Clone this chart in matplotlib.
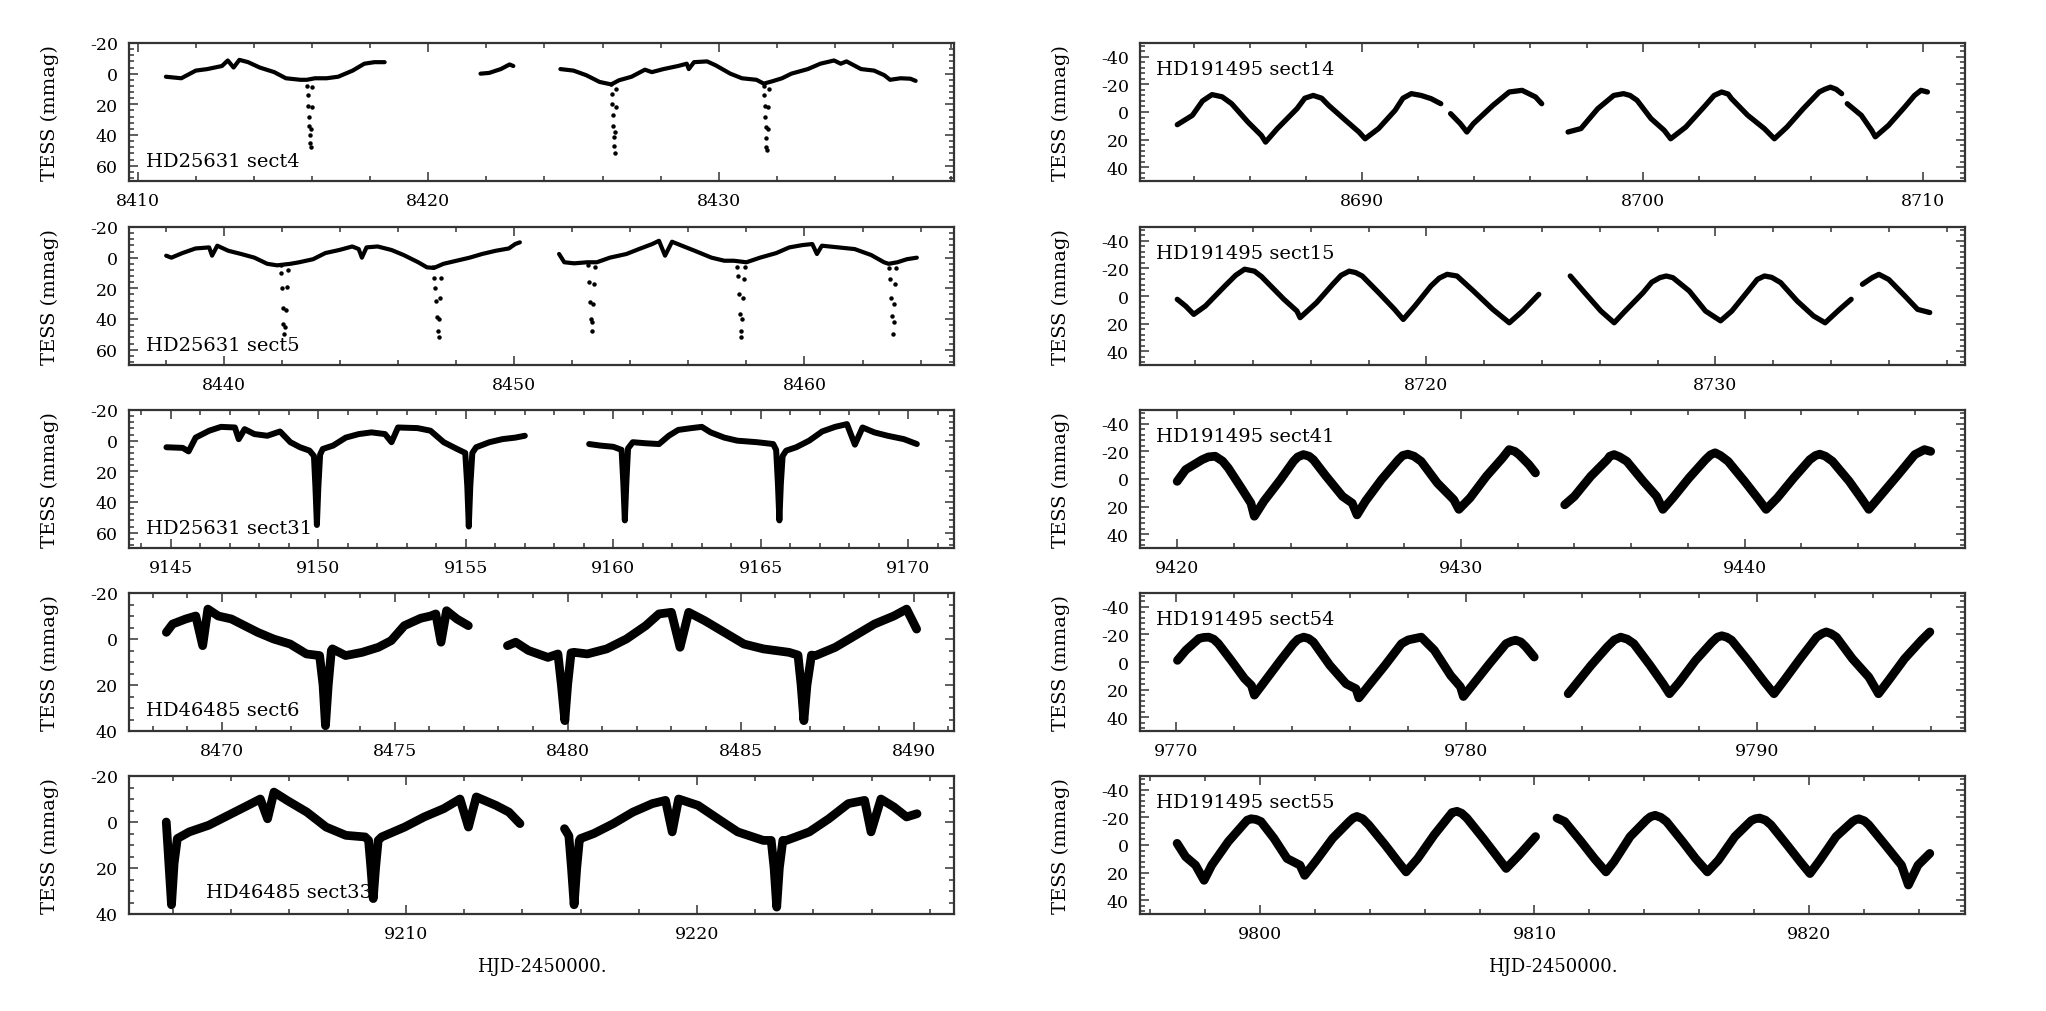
import numpy as np
import matplotlib
matplotlib.use("Agg")
import matplotlib.pyplot as plt
from matplotlib.ticker import MultipleLocator, FormatStrFormatter

plt.rcParams['font.family'] = ['DejaVu Serif']
plt.rcParams['axes.unicode_minus'] = False

# ---------------- data (HJD-2450000, mmag) ----------------
s4_segs = [
    [(8410.97, 2), (8411.5, 3), (8412.0, -2), (8412.4, -3), (8412.9, -5), (8413.1, -8.6), (8413.3, -4),
     (8413.5, -9), (8413.8, -7.5), (8414.2, -4), (8414.7, -1), (8415.1, 3), (8415.6, 4), (8415.82, 4),
     (8416.1, 3), (8416.5, 3), (8416.9, 2), (8417.4, -2), (8417.8, -6.5), (8418.15, -7.5), (8418.5, -7.5)],
    [(8421.8, 0), (8422.1, -0.5), (8422.5, -3), (8422.8, -6), (8422.93, -5)],
    [(8424.55, -3), (8425.0, -2), (8425.44, 1), (8425.9, 5.4), (8426.3, 7), (8426.57, 4.3), (8427.0, 2),
     (8427.46, -2.6), (8427.7, -1), (8428.1, -3), (8428.6, -5), (8428.9, -6.5), (8428.97, -3),
     (8429.15, -7.5), (8429.6, -8), (8429.9, -5.4), (8430.4, 0), (8430.8, 3), (8431.3, 4), (8431.55, 6.5),
     (8431.84, 5), (8432.18, 3), (8432.5, 0), (8433.07, -3), (8433.5, -6.5), (8433.97, -8.6),
     (8434.2, -6.5), (8434.4, -8), (8434.9, -3), (8435.35, -2), (8435.7, 1), (8435.9, 4), (8436.26, 3),
     (8436.6, 3.3), (8436.78, 4.7)],
]
s4_ecl = [(8415.84, 8), (8415.86, 14), (8415.875, 21), (8415.89, 28), (8415.905, 34), (8415.92, 40),
          (8415.935, 45), (8415.95, 48), (8415.97, 36), (8415.99, 22), (8416.01, 9),
          (8426.30, 7), (8426.32, 13), (8426.34, 20), (8426.355, 27), (8426.37, 34), (8426.385, 41),
          (8426.40, 47), (8426.415, 52), (8426.44, 38), (8426.46, 22), (8426.48, 10),
          (8431.55, 8), (8431.57, 14), (8431.585, 21), (8431.60, 28), (8431.615, 35), (8431.63, 42),
          (8431.645, 48), (8431.66, 50), (8431.68, 36), (8431.70, 22), (8431.72, 10)]

s5_segs = [
    [(8438.02, -1.3), (8438.2, 0), (8438.58, -3), (8439.03, -6), (8439.5, -6.7), (8439.6, -1.3),
     (8439.78, -7.8), (8440.16, -4.5), (8440.6, -2.4), (8441.06, 0), (8441.5, 4), (8441.84, 5),
     (8442.3, 4), (8442.6, 3), (8443.08, 1), (8443.5, -3), (8443.98, -5), (8444.43, -7.3), (8444.65, -5.6),
     (8444.76, 0), (8444.92, -6.7), (8445.3, -7.3), (8445.78, -5), (8446.2, -1.7), (8446.7, 3),
     (8447.0, 6.3), (8447.24, 6.7), (8447.57, 4), (8448.02, 2), (8448.47, 0), (8448.9, -2.4),
     (8449.37, -4.5), (8449.82, -6), (8450.04, -8.9), (8450.2, -10)],
    [(8451.55, -2.4), (8451.73, 3), (8452.07, 3.7), (8452.52, 3), (8452.85, 3), (8453.3, 0),
     (8453.87, -2.4), (8454.3, -5.6), (8454.76, -8.9), (8454.99, -11), (8455.2, -1.3), (8455.44, -10.4),
     (8455.78, -7.8), (8456.22, -4.5), (8456.8, 0), (8457.24, 2), (8457.57, 2), (8458.0, 3),
     (8458.47, 0), (8459.03, -3), (8459.48, -6.7), (8459.93, -8.2), (8460.27, -8.9), (8460.43, -2.4),
     (8460.6, -7.8), (8461.17, -6.7), (8461.73, -5.6), (8462.3, -1.7), (8462.74, 3), (8462.9, 4),
     (8463.2, 3), (8463.53, 1), (8463.87, 0)],
]
s5_ecl = [(8441.96, 5), (8441.99, 10), (8442.01, 20), (8442.03, 33), (8442.05, 43), (8442.08, 50),
          (8442.11, 45), (8442.14, 34), (8442.17, 19), (8442.20, 8),
          (8447.22, 6), (8447.25, 13), (8447.28, 20), (8447.31, 28), (8447.34, 39), (8447.37, 48),
          (8447.40, 52), (8447.43, 40), (8447.46, 26), (8447.49, 13),
          (8452.55, 5), (8452.58, 16), (8452.61, 29), (8452.64, 40), (8452.67, 48), (8452.70, 42),
          (8452.73, 30), (8452.76, 17), (8452.79, 6),
          (8457.68, 6), (8457.71, 12), (8457.74, 24), (8457.77, 37), (8457.80, 48), (8457.83, 52),
          (8457.86, 40), (8457.89, 26), (8457.92, 14), (8457.95, 6),
          (8462.92, 7), (8462.95, 14), (8462.98, 26), (8463.01, 38), (8463.04, 50), (8463.07, 42),
          (8463.10, 30), (8463.13, 17), (8463.16, 7)]

s31_segs = [
    [(9144.85, 4.3), (9145.4, 4.7), (9145.6, 7), (9145.84, -2), (9146.3, -6.5), (9146.7, -9),
     (9147.17, -8.6), (9147.3, -1), (9147.5, -7.5), (9147.83, -4.3), (9148.27, -3.2), (9148.7, -6),
     (9149.05, 1), (9149.38, 4.3), (9149.7, 6.5), (9149.85, 10), (9149.9, 30), (9149.95, 55),
     (9150.0, 30), (9150.06, 9), (9150.15, 5.4), (9150.5, 3.2), (9150.93, -2), (9151.37, -4.3),
     (9151.8, -5.4), (9152.26, -4.3), (9152.48, 1), (9152.7, -8.6), (9153.36, -8.2), (9153.8, -6.5),
     (9154.25, 1), (9154.7, 5.4), (9154.98, 8), (9155.05, 30), (9155.1, 56), (9155.15, 30),
     (9155.22, 8), (9155.35, 4.3), (9155.8, 1), (9156.24, -1), (9156.68, -2), (9157.0, -3.2)],
    [(9159.18, 2.2), (9159.56, 3.2), (9160.0, 4), (9160.28, 6), (9160.34, 28), (9160.39, 52),
     (9160.44, 28), (9160.5, 5), (9160.66, 1), (9161.1, 1.7), (9161.55, 2.2), (9161.88, -3.2),
     (9162.2, -7), (9162.65, -8.2), (9163.0, -9), (9163.3, -5.4), (9163.76, -2), (9164.2, 0),
     (9164.87, 1), (9165.42, 2.2), (9165.52, 6), (9165.58, 28), (9165.63, 52), (9165.68, 28),
     (9165.74, 10), (9165.86, 6.5), (9166.2, 4.3), (9166.64, 0), (9167.08, -6), (9167.52, -9),
     (9167.92, -10.8), (9168.19, 2.6), (9168.45, -8.6), (9168.85, -5.4), (9169.3, -3.2),
     (9169.85, -1), (9170.29, 2.2)],
]

s6_segs = [
    [(8468.4, -2.9), (8468.58, -6.5), (8468.96, -8.7), (8469.25, -10), (8469.45, 2.9), (8469.6, -13),
     (8469.9, -10), (8470.28, -8.7), (8470.66, -5.8), (8471.04, -2.9), (8471.5, 0), (8471.98, 2.2),
     (8472.45, 6.5), (8472.83, 7.2), (8472.93, 20), (8473.0, 37.7), (8473.08, 20), (8473.17, 5),
     (8473.2, 4.3), (8473.58, 7.2), (8474.06, 5.8), (8474.53, 3.6), (8474.9, 0.7), (8475.28, -5.8),
     (8475.75, -9), (8476.04, -10), (8476.19, -10.9), (8476.34, 1.4), (8476.5, -12.3), (8476.8, -8.7),
     (8477.13, -5.8)],
    [(8478.26, 2.9), (8478.5, 1.4), (8478.87, 5), (8479.43, 8), (8479.72, 6.5), (8479.82, 20),
     (8479.92, 35.5), (8480.0, 20), (8480.1, 6), (8480.19, 5.8), (8480.57, 6.5), (8481.13, 4.3),
     (8481.7, 0), (8482.26, -5.8), (8482.64, -10.9), (8483.0, -11.6), (8483.25, 3.6), (8483.5, -11.6),
     (8483.96, -8), (8484.53, -2.9), (8485.1, 2.2), (8485.66, 4.3), (8486.4, 5.8), (8486.66, 7),
     (8486.75, 20), (8486.83, 35.5), (8486.92, 20), (8487.05, 7), (8487.17, 7.2), (8487.74, 3.6),
     (8488.3, -1.4), (8488.87, -6.5), (8489.43, -10), (8489.8, -13), (8490.09, -4.3)],
]

s33_segs = [
    [(9201.77, 0), (9201.86, 18), (9201.95, 36), (9202.04, 18), (9202.15, 7.2), (9202.56, 4.3),
     (9203.23, 1.4), (9203.9, -2.9), (9204.57, -7.2), (9205.0, -10), (9205.25, -1.4), (9205.47, -13),
     (9205.92, -9.4), (9206.6, -4.3), (9207.26, 2.2), (9207.94, 5.8), (9208.6, 6.5), (9208.72, 8),
     (9208.8, 20), (9208.88, 33.3), (9208.96, 20), (9209.05, 8), (9209.17, 6.5), (9209.96, 2.2),
     (9210.63, -2.2), (9211.3, -5.8), (9211.86, -10), (9212.15, 2.2), (9212.42, -10.9), (9213.1, -7.2),
     (9213.54, -4.3), (9213.92, 0.7)],
    [(9215.45, 2.9), (9215.6, 6), (9215.69, 20), (9215.78, 36), (9215.87, 20), (9215.96, 8),
     (9216.0, 7.2), (9216.46, 5), (9217.13, 0.7), (9217.8, -4.3), (9218.47, -8), (9218.92, -9.4),
     (9219.15, 4.3), (9219.37, -10), (9220.04, -7.2), (9220.72, -1.4), (9221.4, 4.3), (9222.28, 8),
     (9222.55, 8), (9222.65, 20), (9222.74, 37), (9222.83, 20), (9222.95, 8), (9223.07, 8),
     (9223.86, 4.3), (9224.53, -1.4), (9225.2, -8), (9225.76, -9.4), (9225.98, 4.3), (9226.32, -10),
     (9226.77, -6.5), (9227.2, -2.2), (9227.56, -3.6)],
]

s14_segs = [
    [(8683.4, 9.2), (8683.94, 2.4), (8684.3, -8), (8684.52, -11), (8684.64, -12.6), (8685.0, -11),
     (8685.34, -6), (8685.92, 7.3), (8686.4, 17), (8686.55, 21.8), (8686.97, 12), (8687.67, -2.4),
     (8687.95, -10), (8688.25, -12), (8688.55, -10), (8688.8, -4.8), (8689.4, 6), (8689.88, 14.5),
     (8690.1, 19.4), (8690.58, 12), (8691.17, -1.2), (8691.45, -10), (8691.75, -13.3),
     (8692.1, -12), (8692.45, -9.7), (8692.8, -6)],
    [(8693.15, 1.2), (8693.5, 8.5), (8693.73, 14.5), (8693.96, 8.5), (8694.66, -4.8), (8695.24, -14.5),
     (8695.7, -15.7), (8696.18, -10.9), (8696.4, -6)],
    [(8697.34, 14.5), (8697.8, 12), (8698.4, -2.4), (8698.97, -12), (8699.32, -13.3), (8699.55, -12),
     (8699.8, -8.5), (8700.3, 4.8), (8700.77, 13.3), (8701.0, 19.4), (8701.54, 10.9), (8702.24, -4.8),
     (8702.55, -12), (8702.82, -14.5), (8703.05, -13), (8703.17, -9.7), (8703.75, 2.4), (8704.34, 12),
     (8704.7, 19.4), (8705.15, 10.9), (8705.73, -2.4), (8706.3, -14.5), (8706.5, -16.5), (8706.7, -18),
     (8706.9, -16.5), (8707.1, -13.3)],
    [(8707.3, -6), (8707.8, 2.4), (8708.17, 13.3), (8708.3, 18), (8708.77, 9.7), (8709.35, -3.6),
     (8709.7, -12), (8709.93, -15.7), (8710.16, -14.5)],
]

s15_segs = [
    [(8711.38, 2.4), (8711.67, 7.3), (8711.95, 13.3), (8712.35, 7.3), (8713.03, -7.3), (8713.4, -15),
     (8713.71, -19.4), (8714.05, -18), (8714.3, -14), (8714.5, -9.7), (8715.07, 2.4), (8715.52, 10.9),
     (8715.63, 15.7), (8716.2, 4.8), (8716.76, -8.5), (8717.05, -15), (8717.33, -18), (8717.55, -17),
     (8717.78, -14.5), (8718.35, -2.4), (8718.9, 9.7), (8719.2, 17), (8719.6, 7.3), (8720.16, -7.3),
     (8720.45, -13), (8720.72, -15.7), (8721.06, -14.5), (8721.63, -3.6), (8722.3, 9.7),
     (8722.87, 19.4), (8723.33, 10.9), (8723.89, -1.2)],
    [(8724.98, -14.5), (8725.48, -2.4), (8726.04, 10.9), (8726.5, 19.4), (8726.83, 12), (8727.5, -2.4),
     (8727.8, -10), (8728.08, -13.3), (8728.3, -14.5), (8728.53, -13.3), (8729.1, -3.6), (8729.66, 10.9),
     (8730.18, 18), (8730.57, 10.9), (8731.13, -3.6), (8731.45, -12), (8731.7, -14.5), (8731.95, -13.5),
     (8732.26, -9.7), (8732.83, 3.6), (8733.4, 14.5), (8733.8, 19.4), (8734.3, 9.7), (8734.7, 2.4)],
    [(8735.09, -8.5), (8735.43, -13.3), (8735.66, -15.7), (8736.0, -12), (8736.56, 0), (8737.0, 9.7),
     (8737.42, 12)],
]

s41_segs = [
    [(9420.0, 1.7), (9420.3, -6.8), (9420.88, -14), (9421.1, -16), (9421.34, -16.5), (9421.6, -13),
     (9421.8, -8), (9422.26, 6.5), (9422.6, 17.5), (9422.72, 27), (9423.06, 16), (9423.64, 0.5),
     (9424.1, -12.8), (9424.25, -16), (9424.45, -17.7), (9424.65, -16.5), (9424.8, -14), (9425.25, -2),
     (9425.83, 12.6), (9426.17, 17.5), (9426.34, 26), (9426.64, 16), (9427.2, 0.5), (9427.8, -14),
     (9427.95, -17), (9428.13, -18), (9428.35, -16.5), (9428.6, -12.8), (9429.17, 2.9), (9429.75, 15),
     (9429.93, 22), (9430.32, 13.8), (9430.9, -2), (9431.47, -15.3), (9431.7, -21.3), (9431.9, -20),
     (9432.05, -17.7), (9432.4, -10.4), (9432.63, -4.4)],
    [(9433.66, 18.7), (9434.0, 12.6), (9434.58, -2), (9435.16, -14), (9435.25, -16.5), (9435.4, -17.7),
     (9435.6, -16), (9435.85, -12.8), (9436.43, 1.7), (9436.9, 12.6), (9437.12, 22), (9437.47, 13.8),
     (9438.04, -0.7), (9438.62, -14), (9438.8, -17.5), (9438.96, -19), (9439.15, -17), (9439.42, -12.8),
     (9440.0, 1.7), (9440.46, 13.8), (9440.76, 22), (9441.15, 13.8), (9441.73, -0.7), (9442.3, -14),
     (9442.5, -17), (9442.65, -18), (9442.85, -16.5), (9443.1, -12.8), (9443.69, 1.7), (9444.15, 15),
     (9444.38, 22), (9444.72, 13.8), (9445.41, -3), (9446.0, -17.7), (9446.34, -21.3), (9446.56, -20)],
]

s54_segs = [
    [(9770.05, -1.2), (9770.34, -8.5), (9770.79, -17), (9770.95, -17.8), (9771.13, -18), (9771.3, -16.5),
     (9771.46, -13.3), (9771.9, -1.2), (9772.36, 12), (9772.6, 17), (9772.7, 24), (9773.04, 14.5),
     (9773.6, -1.2), (9774.05, -13.3), (9774.2, -16.5), (9774.4, -18), (9774.57, -17), (9774.73, -14.5),
     (9775.3, 2.4), (9775.86, 15.8), (9776.2, 19.4), (9776.3, 26), (9776.64, 17), (9777.2, 2.4),
     (9777.77, -13.3), (9778.0, -16), (9778.22, -17), (9778.45, -18), (9778.9, -8.5), (9779.46, 9.7),
     (9779.8, 18), (9779.9, 25), (9780.25, 15.8), (9780.8, 1.2), (9781.37, -13.3), (9781.55, -15),
     (9781.7, -15.8), (9781.88, -14.5), (9782.05, -11), (9782.34, -3.6)],
    [(9783.51, 23), (9783.74, 17), (9784.3, 2.4), (9784.86, -11), (9785.1, -16), (9785.32, -18),
     (9785.55, -16.5), (9785.77, -13.3), (9786.33, 2.4), (9786.78, 15.8), (9787.0, 23), (9787.34, 14.5),
     (9787.9, -1.2), (9788.47, -14.5), (9788.65, -18), (9788.8, -19), (9788.97, -18), (9789.14, -15.8),
     (9789.7, -1.2), (9790.27, 14.5), (9790.6, 23), (9790.95, 13.3), (9791.5, -2.4), (9792.07, -18),
     (9792.25, -20.5), (9792.4, -21.8), (9792.57, -20.5), (9792.75, -18), (9793.3, -2.4), (9793.87, 11),
     (9794.2, 23), (9794.55, 13.3), (9795.1, -2.4), (9795.68, -15.8), (9795.97, -21.8)],
]

s55_segs = [
    [(9797.0, -1.2), (9797.31, 8.5), (9797.67, 14.6), (9797.98, 25.6), (9798.26, 14.6), (9798.86, -2.4),
     (9799.45, -15.8), (9799.55, -18), (9799.69, -19), (9799.87, -18.5), (9800.05, -17), (9800.52, -4.9),
     (9801.0, 9.8), (9801.47, 14.6), (9801.64, 22), (9802.07, 11), (9802.66, -4.9), (9803.26, -17),
     (9803.4, -19.5), (9803.54, -20.7), (9803.75, -19), (9803.97, -14.6), (9804.57, 0), (9805.04, 12.2),
     (9805.33, 19.5), (9805.75, 9.8), (9806.35, -7.3), (9806.94, -22), (9807.0, -23.5), (9807.18, -24.4),
     (9807.35, -23), (9807.54, -19.5), (9808.13, -4.9), (9808.6, 7.3), (9808.97, 17), (9809.44, 7.3),
     (9810.04, -6.1)],
    [(9810.82, -19.5), (9811.1, -17), (9811.7, -2.4), (9812.18, 9.8), (9812.6, 19.5), (9812.89, 12.2),
     (9813.48, -6.1), (9814.08, -18.3), (9814.22, -20.5), (9814.39, -21.5), (9814.6, -20), (9814.8, -17),
     (9815.39, -2.4), (9815.86, 9.8), (9816.29, 19.5), (9816.69, 11), (9817.29, -6.1), (9817.88, -17.6),
     (9818.03, -19), (9818.19, -19.5), (9818.4, -18), (9818.6, -14.6), (9819.19, 0), (9819.67, 12.2),
     (9820.02, 20.7), (9820.38, 11), (9820.97, -6.1), (9821.57, -17), (9821.7, -18.5), (9821.8, -19),
     (9822.0, -17.5), (9822.16, -14.6), (9822.76, 0), (9823.35, 14.6), (9823.6, 29), (9823.95, 14.6),
     (9824.38, 6.1)],
]

labels_left = ["HD25631 sect4", "HD25631 sect5", "HD25631 sect31", "HD46485 sect6", "HD46485 sect33"]
labels_right = ["HD191495 sect14", "HD191495 sect15", "HD191495 sect41", "HD191495 sect54", "HD191495 sect55"]
ylabel = "TESS (mmag)"
xlabel = "HJD-2450000."

# ---------------- layout ----------------
W, H = 2046, 1012
fig = plt.figure(figsize=(W / 100, H / 100), dpi=100)
row_tops = [44, 228, 411, 594, 777]
ax_h = 138
col_left = [129, 1140]
ax_w = 825

def make_ax(col, row):
    l = col_left[col] / W
    b = 1 - (row_tops[row] + ax_h) / H
    return fig.add_axes([l, b, ax_w / W, ax_h / H])

def style(ax, xlim, ylim, xmaj, xmin, ymaj, ymin):
    ax.set_xlim(*xlim)
    ax.set_ylim(*ylim)
    ax.xaxis.set_major_locator(MultipleLocator(xmaj))
    ax.xaxis.set_minor_locator(MultipleLocator(xmin))
    ax.yaxis.set_major_locator(MultipleLocator(ymaj))
    ax.yaxis.set_minor_locator(MultipleLocator(ymin))
    ax.xaxis.set_major_formatter(FormatStrFormatter('%d'))
    ax.yaxis.set_major_formatter(FormatStrFormatter('%d'))
    ax.tick_params(which='both', direction='in', top=True, right=True, width=1.1, color='#333333')
    ax.tick_params(which='major', length=6.5, labelsize=12.5, pad=8)
    ax.tick_params(which='minor', length=3.3)
    for sp in ax.spines.values():
        sp.set_linewidth(1.6)
        sp.set_color('#333333')
    ax.set_ylabel(ylabel, fontsize=14)
    ax.yaxis.set_label_coords(-0.085, 0.5)

def draw_line(ax, segs, lw):
    for seg in segs:
        t = [p[0] for p in seg]
        m = [p[1] for p in seg]
        ax.plot(t, m, color='black', lw=lw, solid_joinstyle='round', solid_capstyle='round')

def draw_dots(ax, pts, ms):
    t = [p[0] for p in pts]
    m = [p[1] for p in pts]
    ax.plot(t, m, 'o', color='black', ms=ms, mew=0)

# left column
ax = make_ax(0, 0)
draw_line(ax, s4_segs, 3.0)
draw_dots(ax, s4_ecl, 3.2)
style(ax, (8409.7, 8438.1), (70, -20), 10, 2, 20, 4)
ax.text(0.02, 0.145, labels_left[0], transform=ax.transAxes, fontsize=14, va='center')

ax = make_ax(0, 1)
draw_line(ax, s5_segs, 3.0)
draw_dots(ax, s5_ecl, 3.2)
style(ax, (8436.74, 8465.15), (70, -20), 10, 2, 20, 4)
ax.text(0.02, 0.145, labels_left[1], transform=ax.transAxes, fontsize=14, va='center')

ax = make_ax(0, 2)
draw_line(ax, s31_segs, 4.3)
style(ax, (9143.58, 9171.55), (70, -20), 5, 1, 20, 4)
ax.text(0.02, 0.147, labels_left[2], transform=ax.transAxes, fontsize=14, va='center')

ax = make_ax(0, 3)
draw_line(ax, s6_segs, 6.3)
style(ax, (8467.32, 8491.17), (40, -20), 5, 1, 20, 5)
ax.text(0.02, 0.152, labels_left[3], transform=ax.transAxes, fontsize=14, va='center')

ax = make_ax(0, 4)
draw_line(ax, s33_segs, 6.3)
style(ax, (9200.49, 9228.83), (40, -20), 10, 2, 20, 5)
ax.text(0.093, 0.158, labels_left[4], transform=ax.transAxes, fontsize=14, va='center')
ax.set_xlabel(xlabel, fontsize=13)
ax.xaxis.set_label_coords(0.5, -0.31)

# right column
ax = make_ax(1, 0)
draw_line(ax, s14_segs, 3.8)
style(ax, (8682.07, 8711.5), (50, -50), 10, 2, 20, 4)
ax.text(0.02, 0.81, labels_right[0], transform=ax.transAxes, fontsize=14, va='center')

ax = make_ax(1, 1)
draw_line(ax, s15_segs, 3.8)
style(ax, (8710.09, 8738.64), (50, -50), 10, 2, 20, 4)
ax.text(0.02, 0.81, labels_right[1], transform=ax.transAxes, fontsize=14, va='center')

ax = make_ax(1, 2)
draw_line(ax, s41_segs, 6.3)
style(ax, (9418.69, 9447.77), (50, -50), 10, 2, 20, 4)
ax.text(0.02, 0.81, labels_right[2], transform=ax.transAxes, fontsize=14, va='center')

ax = make_ax(1, 3)
draw_line(ax, s54_segs, 6.3)
style(ax, (9768.76, 9797.18), (50, -50), 10, 2, 20, 4)
ax.text(0.02, 0.81, labels_right[3], transform=ax.transAxes, fontsize=14, va='center')

ax = make_ax(1, 4)
draw_line(ax, s55_segs, 6.3)
style(ax, (9795.65, 9825.66), (50, -50), 10, 2, 20, 4)
ax.text(0.02, 0.81, labels_right[4], transform=ax.transAxes, fontsize=14, va='center')
ax.set_xlabel(xlabel, fontsize=13)
ax.xaxis.set_label_coords(0.5, -0.31)

fig.savefig("out.png", dpi=100)
